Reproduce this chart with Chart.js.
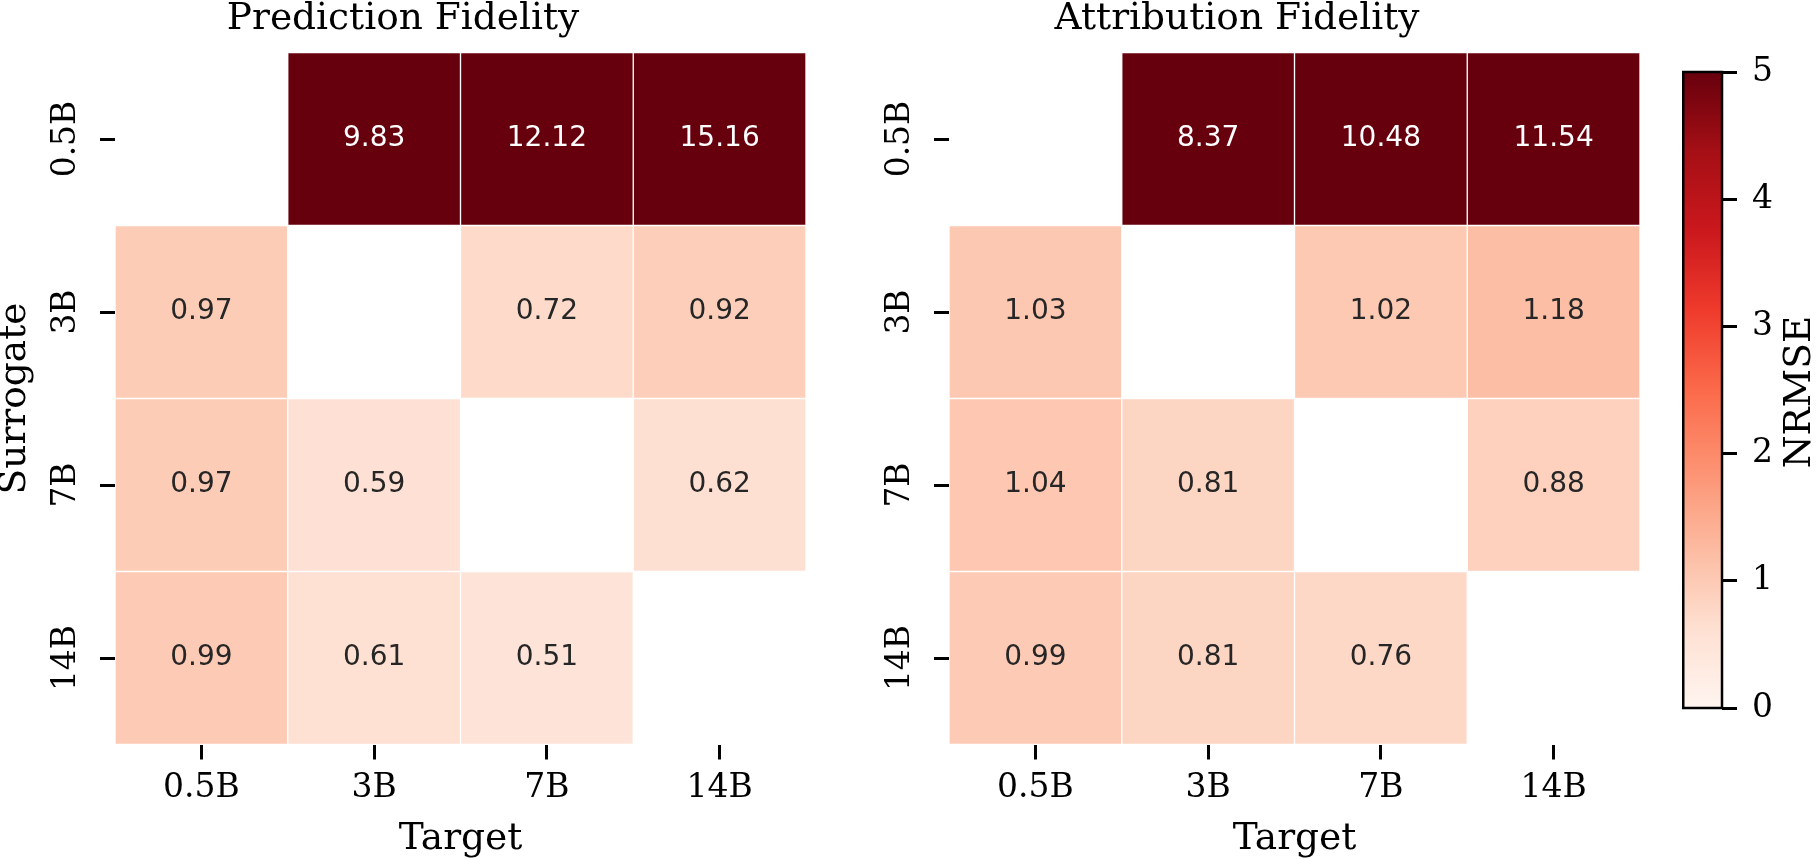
<!DOCTYPE html>
<html lang="en">
<head>
    <meta charset="UTF-8">
    <title>Prediction and Attribution Fidelity</title>
    <script src="https://cdn.jsdelivr.net/npm/chart.js"></script>
    <style>
        body {
            margin: 0;
            background: #ffffff;
        }
        #page {
            position: relative;
            width: 1819px;
            height: 860px;
        }
        .box {
            position: absolute;
            top: 0;
            height: 860px;
        }
        #pred-box { left: 0; width: 806px; }
        #attr-box { left: 834px; width: 806px; }
        #cbar-box { left: 1682px; width: 137px; }
    </style>
</head>
<body>
    <div id="page">
        <div class="box" id="pred-box"><canvas id="pred-chart"></canvas></div>
        <div class="box" id="attr-box"><canvas id="attr-chart"></canvas></div>
        <div class="box" id="cbar-box"><canvas id="cbar-chart"></canvas></div>
    </div>
    <script>
        var targets = ['0.5B', '3B', '7B', '14B'];
        var surrogates = ['0.5B', '3B', '7B', '14B'];

        // rows = surrogate model, columns = target model, null = same model
        var predictionNrmse = [
            [null, 9.83, 12.12, 15.16],
            [0.97, null, 0.72, 0.92],
            [0.97, 0.59, null, 0.62],
            [0.99, 0.61, 0.51, null]
        ];
        var attributionNrmse = [
            [null, 8.37, 10.48, 11.54],
            [1.03, null, 1.02, 1.18],
            [1.04, 0.81, null, 0.88],
            [0.99, 0.81, 0.76, null]
        ];

        var colorMin = 0;
        var colorMax = 5;
        // matplotlib "Reds"
        var redsStops = ['#fff5f0', '#fee0d2', '#fcbba1', '#fc9272', '#fb6a4a',
                         '#ef3b2c', '#cb181d', '#a50f15', '#67000d'];

        var serif = '"DejaVu Serif", serif';
        Chart.defaults.font.family = serif;
        Chart.defaults.color = '#000000';

        function hexToRgb(h) {
            return [parseInt(h.substr(1, 2), 16), parseInt(h.substr(3, 2), 16), parseInt(h.substr(5, 2), 16)];
        }

        function redsRgb(v) {
            var t = Math.min(Math.max((v - colorMin) / (colorMax - colorMin), 0), 1);
            var pos = t * (redsStops.length - 1);
            var i = Math.min(Math.floor(pos), redsStops.length - 2);
            var f = pos - i;
            var a = hexToRgb(redsStops[i]), b = hexToRgb(redsStops[i + 1]);
            return [0, 1, 2].map(function(k) { return Math.round(a[k] + (b[k] - a[k]) * f); });
        }

        function redsColor(v) {
            var c = redsRgb(v);
            return 'rgb(' + c[0] + ',' + c[1] + ',' + c[2] + ')';
        }

        // same rule seaborn uses to pick annotation colour
        function textColorFor(v) {
            var lin = redsRgb(v).map(function(x) {
                x = x / 255;
                return x <= 0.03928 ? x / 12.92 : Math.pow((x + 0.055) / 1.055, 2.4);
            });
            var lum = 0.2126 * lin[0] + 0.7152 * lin[1] + 0.0722 * lin[2];
            return lum > 0.408 ? '#262626' : '#ffffff';
        }

        var cellLabels = {
            id: 'cellLabels',
            afterDatasetsDraw: function(chart) {
                var ctx = chart.ctx;
                ctx.save();
                ctx.font = '28px "DejaVu Sans", sans-serif';
                ctx.textAlign = 'center';
                ctx.textBaseline = 'middle';
                chart.data.datasets.forEach(function(ds, r) {
                    var meta = chart.getDatasetMeta(r);
                    meta.data.forEach(function(bar, c) {
                        var v = ds.nrmse[c];
                        if (v === null) return;
                        var p = bar.getCenterPoint();
                        ctx.fillStyle = textColorFor(v);
                        ctx.fillText(v.toFixed(2), p.x, p.y);
                    });
                });
                ctx.restore();
            }
        };

        // y tick labels are rotated in the original, chart.js can't rotate them on a y axis
        var rotatedYLabels = {
            id: 'rotatedYLabels',
            afterDraw: function(chart) {
                var ctx = chart.ctx;
                var yScale = chart.scales.y;
                ctx.save();
                ctx.font = '33px ' + serif;
                ctx.fillStyle = '#000000';
                ctx.textAlign = 'center';
                ctx.textBaseline = 'middle';
                surrogates.forEach(function(name, i) {
                    ctx.save();
                    ctx.translate(chart.chartArea.left - 49, yScale.getPixelForValue(i + 0.5));
                    ctx.rotate(-Math.PI / 2);
                    ctx.fillText(name, 0, 0);
                    ctx.restore();
                });
                ctx.restore();
            }
        };

        function buildHeatmap(canvasId, title, values, showYTitle) {
            var datasets = surrogates.map(function(name, r) {
                return {
                    label: name,
                    nrmse: values[r],
                    data: values[r].map(function(v) { return v === null ? null : [r, r + 1]; }),
                    backgroundColor: values[r].map(function(v) { return v === null ? 'rgba(0,0,0,0)' : redsColor(v); }),
                    borderColor: '#ffffff',
                    borderWidth: 1,
                    borderSkipped: false,
                    grouped: false,
                    barPercentage: 1,
                    categoryPercentage: 1
                };
            });

            var ctx = document.getElementById(canvasId).getContext('2d');
            return new Chart(ctx, {
                type: 'bar',
                data: { labels: targets, datasets: datasets },
                options: {
                    responsive: true,
                    maintainAspectRatio: false,
                    animation: false,
                    layout: { padding: 0 },
                    plugins: {
                        legend: { display: false },
                        tooltip: { enabled: false },
                        title: {
                            display: true,
                            text: title,
                            color: '#000000',
                            font: { size: 37.5, weight: 'normal', lineHeight: 0.9 },
                            padding: { top: 2.5, bottom: 16.25 }
                        }
                    },
                    scales: {
                        x: {
                            type: 'category',
                            offset: true,
                            border: { display: false },
                            grid: {
                                offset: false,
                                drawOnChartArea: false,
                                drawTicks: true,
                                tickLength: 15,
                                tickWidth: 3,
                                tickColor: '#000000'
                            },
                            ticks: { font: { size: 33 }, color: '#000000', padding: 9 },
                            title: {
                                display: true,
                                text: 'Target',
                                color: '#000000',
                                font: { size: 37.5, lineHeight: 1.1 },
                                padding: 0
                            },
                            afterFit: function(scale) { scale.height = 115.5; }
                        },
                        y: {
                            type: 'linear',
                            min: 0,
                            max: surrogates.length,
                            reverse: true,
                            border: { display: false },
                            afterBuildTicks: function(scale) {
                                scale.ticks = surrogates.map(function(_, i) { return { value: i + 0.5 }; });
                            },
                            grid: {
                                drawOnChartArea: false,
                                drawTicks: true,
                                tickLength: 15,
                                tickWidth: 3,
                                tickColor: '#000000'
                            },
                            ticks: { display: false },
                            title: {
                                display: showYTitle,
                                text: 'Surrogate',
                                color: '#000000',
                                font: { size: 37.5, lineHeight: 0.8 },
                                padding: 0
                            },
                            afterFit: function(scale) { scale.width = 115; }
                        }
                    }
                },
                plugins: [cellLabels, rotatedYLabels]
            });
        }

        buildHeatmap('pred-chart', 'Prediction Fidelity', predictionNrmse, true);
        buildHeatmap('attr-chart', 'Attribution Fidelity', attributionNrmse, false);

        // colour bar
        var cbarDecor = {
            id: 'cbarDecor',
            afterDraw: function(chart) {
                var ctx = chart.ctx;
                var a = chart.chartArea;
                ctx.save();
                ctx.strokeStyle = '#000000';
                ctx.lineWidth = 2.5;
                ctx.strokeRect(a.left + 1.25, a.top, a.right - a.left - 1.25, a.bottom - a.top);
                ctx.font = '37.5px ' + serif;
                ctx.fillStyle = '#000000';
                ctx.textAlign = 'center';
                ctx.textBaseline = 'middle';
                ctx.translate(118, (a.top + a.bottom) / 2 + 2);
                ctx.rotate(-Math.PI / 2);
                ctx.fillText('NRMSE', 0, 0);
                ctx.restore();
            }
        };

        var cbarCtx = document.getElementById('cbar-chart').getContext('2d');
        new Chart(cbarCtx, {
            type: 'bar',
            data: {
                labels: ['NRMSE'],
                datasets: [{
                    data: [[colorMin, colorMax]],
                    backgroundColor: function(c) {
                        var area = c.chart.chartArea;
                        if (!area) return redsStops[4];
                        var g = c.chart.ctx.createLinearGradient(0, area.bottom, 0, area.top);
                        redsStops.forEach(function(col, i) { g.addColorStop(i / (redsStops.length - 1), col); });
                        return g;
                    },
                    borderWidth: 0,
                    barPercentage: 1,
                    categoryPercentage: 1
                }]
            },
            options: {
                responsive: true,
                maintainAspectRatio: false,
                animation: false,
                layout: { padding: { top: 72, bottom: 152, left: 0, right: 0 } },
                plugins: {
                    legend: { display: false },
                    tooltip: { enabled: false }
                },
                scales: {
                    x: { display: false },
                    y: {
                        position: 'right',
                        min: colorMin,
                        max: colorMax,
                        border: { display: false },
                        grid: {
                            drawOnChartArea: false,
                            drawTicks: true,
                            tickLength: 15,
                            tickWidth: 3,
                            tickColor: '#000000'
                        },
                        ticks: { stepSize: 1, font: { size: 33 }, color: '#000000', padding: 15 },
                        afterFit: function(scale) { scale.width = 97; }
                    }
                }
            },
            plugins: [cbarDecor]
        });
    </script>
</body>
</html>
